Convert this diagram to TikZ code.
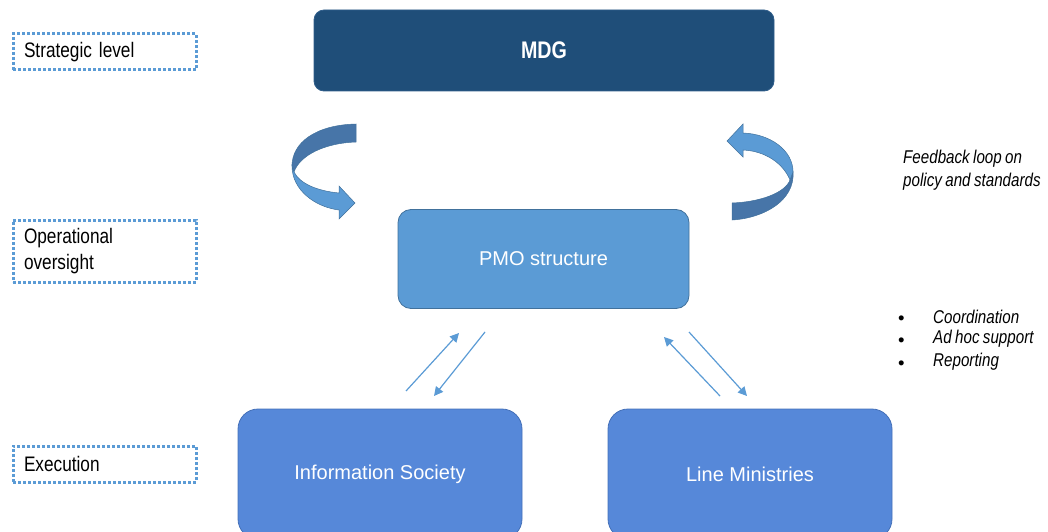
\documentclass[tikz,border=0pt]{standalone}
\usepackage{fontspec}
\setmainfont{Liberation Sans}
\newfontfamily\narrowfont[FakeStretch=0.82,WordSpace=0.8]{Liberation Sans}
\usetikzlibrary{arrows.meta}

\definecolor{navy}{HTML}{1F4E79}
\definecolor{navyedge}{HTML}{2F5D8A}
\definecolor{midblue}{HTML}{5B9BD5}
\definecolor{midedge}{HTML}{41719C}
\definecolor{brightblue}{HTML}{5688D9}
\definecolor{brightedge}{HTML}{4470B8}
\definecolor{darkband}{HTML}{4775A8}

\tikzset{
  topbox/.style={draw=navyedge, fill=navy, line width=0.8pt, rounded corners=10pt,
    minimum width=460pt, minimum height=81pt, text=white,
    font=\narrowfont\bfseries\fontsize{24}{28}\selectfont},
  midbox/.style={draw=midedge, fill=midblue, line width=0.8pt, rounded corners=13pt,
    minimum width=291pt, minimum height=99pt, text=white,
    font=\fontsize{20}{24}\selectfont},
  lowbox/.style={draw=brightedge, fill=brightblue, line width=0.8pt, rounded corners=20pt,
    minimum width=284pt, minimum height=130pt, text=white,
    font=\fontsize{20}{24}\selectfont},
  levelbox/.style={draw=midblue, line width=3pt, dash pattern=on 3pt off 2pt,
    minimum width=183pt, text width=161pt, inner xsep=11pt, align=left,
    font=\narrowfont\fontsize{21}{26}\selectfont},
  note/.style={anchor=west, align=left, inner sep=0pt,
    font=\narrowfont\itshape\fontsize{18.5}{23}\selectfont},
  dot/.style={anchor=west, inner sep=0pt, font=\fontsize{18.5}{23}\selectfont},
  link/.style={draw=midblue, line width=1.2pt, -{Triangle[length=9pt,width=9pt]}},
  bandlight/.style={fill=midblue, draw=midedge, line width=0.5pt},
  banddark/.style={fill=darkband, draw=midedge, line width=0.5pt}
}

\begin{document}
\begin{tikzpicture}[x=1pt, y=-1pt]
\useasboundingbox (0,0) rectangle (1048,532);

% main boxes
\node[topbox] (mdg) at (544,50.5) {MDG};
\node[midbox] (pmo) at (543.5,259) {PMO structure};
\node[lowbox] (infosoc) at (380,474) {Information Society};
\node[lowbox] (ministries) at (750,474) {Line Ministries};

% level labels
\node[levelbox, minimum height=36pt] (strategic) at (104.5,52) {Strategic level};
\node[levelbox, minimum height=62pt] (operational) at (104.5,251) {Operational\\oversight};
\node[levelbox, minimum height=36pt] (execution) at (104.5,464) {Execution};

% side notes
\node[note] (feedback) at (903,170) {Feedback loop on\\policy and standards};
\node[dot] (bul1) at (898,320) {\textbullet};
\node[dot] (bul2) at (898,342) {\textbullet};
\node[dot] (bul3) at (898,365) {\textbullet};
\node[note] (coord) at (933,317) {Coordination};
\node[note] (adhoc) at (933,339) {Ad hoc support};
\node[note] (report) at (933,362) {Reporting};

% curved arrow from MDG down to the PMO
\path[banddark] (356,124) .. controls (315,125) and (292,143) .. (292,166)
  -- (294,172) .. controls (300,155) and (325,143) .. (356,142) -- cycle;
\path[bandlight] (292,166) .. controls (292,190) and (315,207) .. (339,210)
  -- (339,219) -- (355,203) -- (339,186) -- (339,193)
  .. controls (318,191) and (300,184) .. (294,172) -- cycle;

% curved arrow from the PMO back up to MDG
\path[banddark] (793,172) .. controls (795,200) and (765,218) .. (732,220)
  -- (732,203) .. controls (760,202) and (785,193) .. (790,180) -- cycle;
\path[bandlight] (743,133) .. controls (770,134) and (793,150) .. (793,172)
  -- (790,180) .. controls (783,163) and (765,151) .. (743,150)
  -- (743,157) -- (727,141) -- (743,124) -- cycle;

% exchanges between the PMO and the executing bodies
\coordinate (isUp) at (406,391);
\coordinate (pmoL1) at (459,333);
\coordinate (pmoL2) at (485,332);
\coordinate (isDown) at (434,396);
\coordinate (lmUp) at (720,396);
\coordinate (pmoR1) at (664,337);
\coordinate (pmoR2) at (689,332);
\coordinate (lmDown) at (747,396);
\draw[link] (isUp) -- (pmoL1);
\draw[link] (pmoL2) -- (isDown);
\draw[link] (lmUp) -- (pmoR1);
\draw[link] (pmoR2) -- (lmDown);
\end{tikzpicture}
\end{document}
